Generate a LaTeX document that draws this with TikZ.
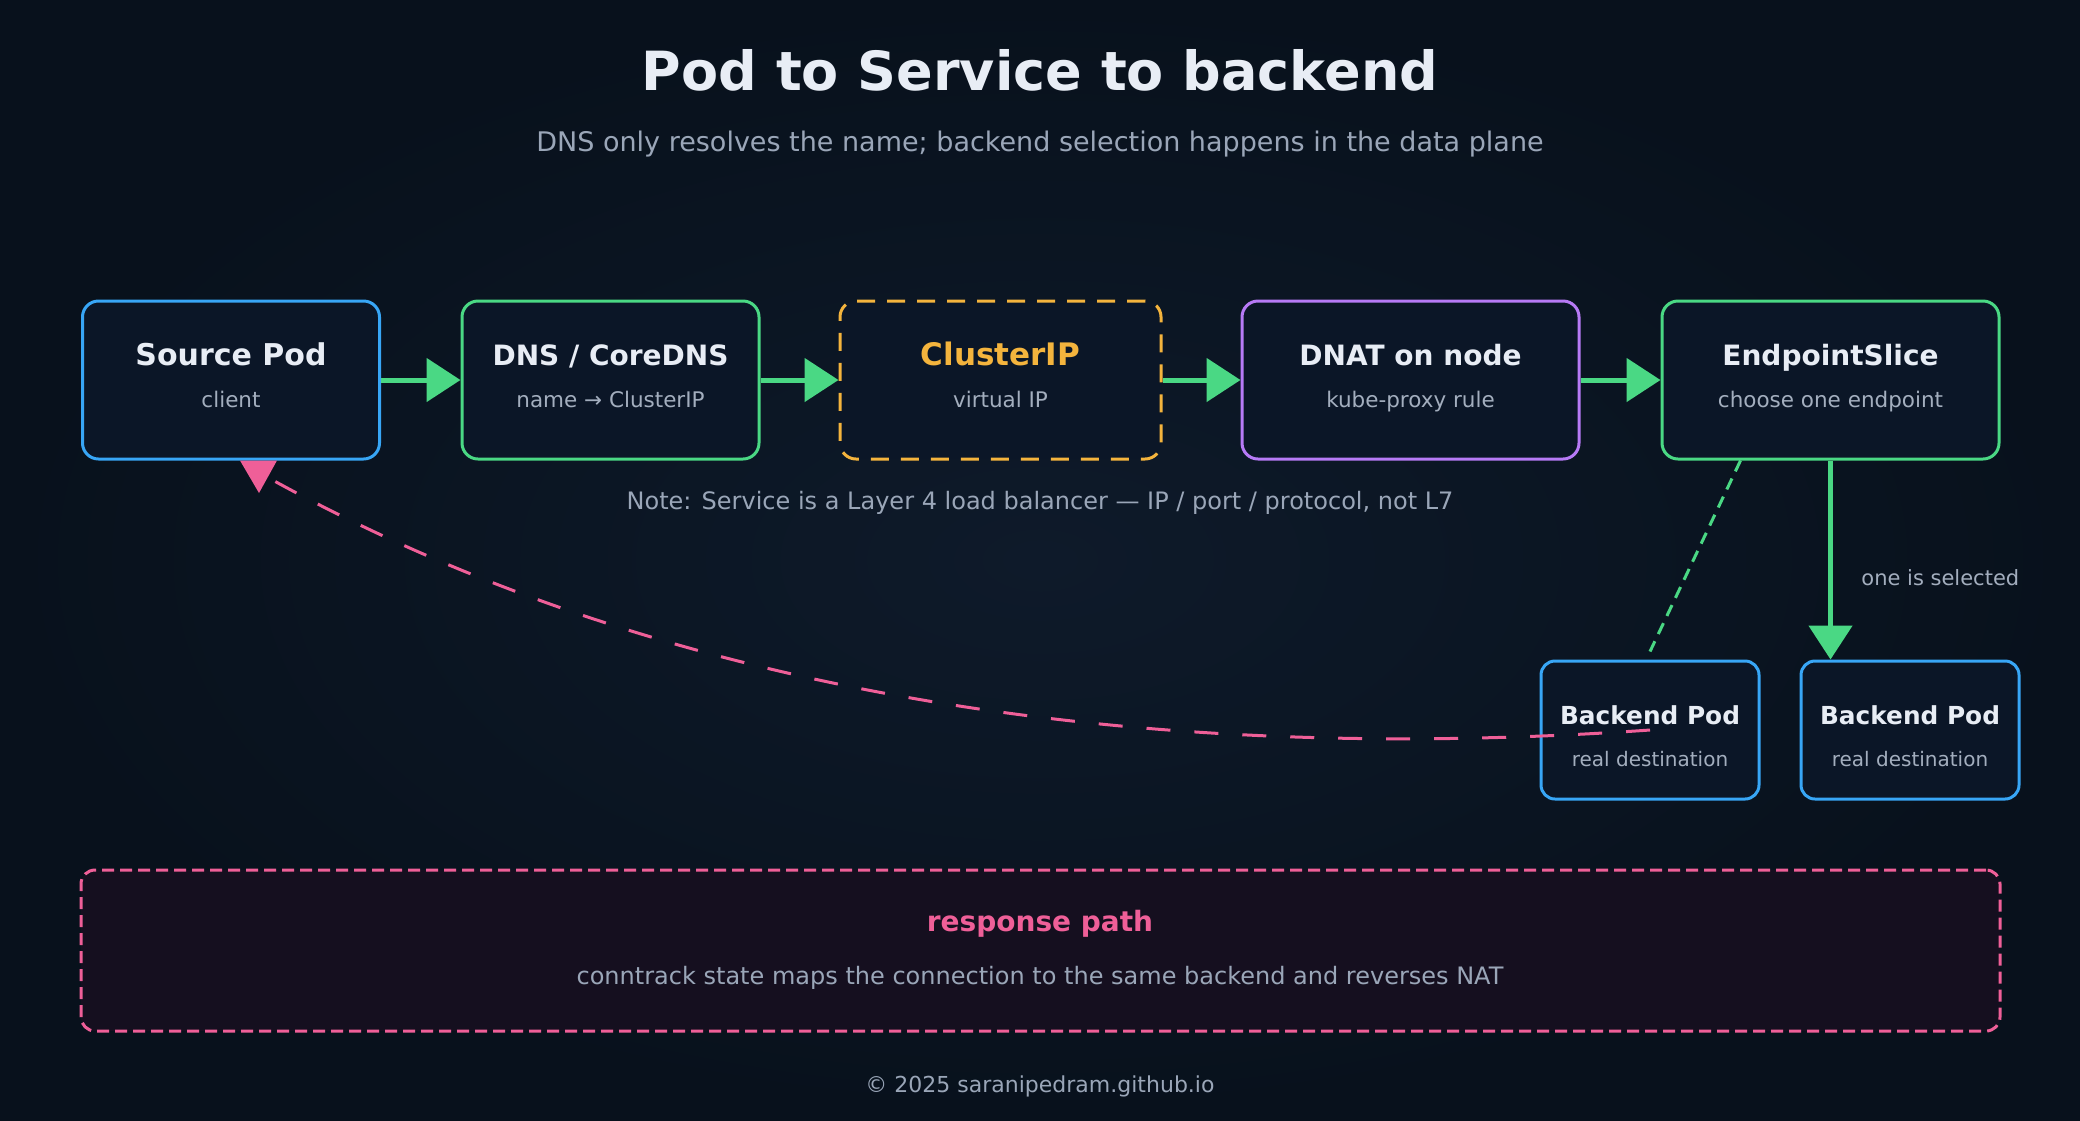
\documentclass[tikz,border=0pt]{standalone}
\usepackage{fontspec}
\setmainfont{DejaVu Sans}
\usetikzlibrary{arrows.meta,calc}
\definecolor{bgin}{HTML}{0E1A2A}
\definecolor{bgout}{HTML}{08111C}
\definecolor{boxfill}{HTML}{0B1627}
\definecolor{respfill}{HTML}{150F1F}
\definecolor{cblue}{HTML}{38A6F6}
\definecolor{cgreen}{HTML}{4AD884}
\definecolor{corange}{HTML}{F4B43D}
\definecolor{cpurple}{HTML}{B77AF6}
\definecolor{cpink}{HTML}{EF5F98}
\definecolor{twhite}{HTML}{E8EDF5}
\definecolor{tgray}{HTML}{9AA6B8}
\definecolor{tsub}{HTML}{A3AEBE}
\begin{document}
\begin{tikzpicture}[x=0.5pt,y=-0.5pt,
  box/.style={draw, line width=1.5pt, rounded corners=8pt, fill=boxfill, inner sep=0pt,
    minimum height=79pt},
  bigbox/.style={box, minimum width=148.5pt},
  podbox/.style={box, draw=cblue, rounded corners=7pt, minimum width=109pt, minimum height=69pt},
  ttl/.style={text=twhite, font=\bfseries\fontsize{15}{18}\selectfont, inner sep=0pt, anchor=base},
  ttlsm/.style={ttl, font=\bfseries\fontsize{14}{17}\selectfont},
  podttl/.style={text=twhite, font=\bfseries\fontsize{12.4}{15}\selectfont, inner sep=0pt, anchor=base},
  sub/.style={text=tsub, font=\fontsize{10.75}{13}\selectfont, inner sep=0pt, anchor=base},
  podsub/.style={text=tsub, font=\fontsize{10}{12}\selectfont, inner sep=0pt, anchor=base},
  flow/.style={draw=cgreen, line width=2.5pt, -{Triangle[length=17pt,width=21.5pt]}},
  greendash/.style={draw=cgreen, line width=1.5pt, dash pattern=on 6pt off 4pt},
  pinkdash/.style={draw=cpink, line width=1.5pt, dash pattern=on 12pt off 12pt}
]
\shade[inner color=bgin, outer color=bgout] (0,0) rectangle (2080,1120);
\useasboundingbox (0,0) rectangle (2080,1120);

% title
\node[text=twhite, font=\bfseries\fontsize{27}{32}\selectfont] (title) at (1040,70) {Pod to Service to backend};
\node[text=tgray, font=\fontsize{13.5}{16}\selectfont, inner sep=0pt, anchor=base] (subtitle) at (1040,151) {DNS only resolves the name; backend selection happens in the data plane};

% main boxes
\node[bigbox, draw=cblue] (src) at (231,380) {};
\node[ttl] (srcT) at (231,365) {Source Pod};
\node[sub] (srcS) at (231,407) {client};

\node[bigbox, draw=cgreen] (dns) at (610.5,380) {};
\node[ttlsm] (dnsT) at (610.5,365) {DNS / CoreDNS};
\node[sub] (dnsS) at (610.5,407) {name → ClusterIP};

\node[box, draw=corange, minimum width=160.5pt, dash pattern=on 9pt off 6pt] (cip) at (1000.5,380) {};
\node[ttl, text=corange, font=\bfseries\fontsize{15.5}{18}\selectfont] (cipT) at (1000.5,365) {ClusterIP};
\node[sub] (cipS) at (1000.5,407) {virtual IP};

\node[box, draw=cpurple, minimum width=168.5pt] (dnat) at (1410.5,380) {};
\node[ttlsm] (dnatT) at (1410.5,365) {DNAT on node};
\node[sub] (dnatS) at (1410.5,407) {kube-proxy rule};

\node[box, draw=cgreen, minimum width=168.5pt] (ep) at (1830.5,380) {};
\node[ttlsm] (epT) at (1830.5,365) {EndpointSlice};
\node[sub] (epS) at (1830.5,407) {choose one endpoint};

% note
\node[text=tgray, font=\fontsize{12}{14}\selectfont, inner sep=0pt, anchor=base] (note) at (1040,509) {Note: Service is a Layer 4 load balancer — IP / port / protocol, not L7};

% backend pods
\node[podbox] (bp1) at (1650,730) {};
\node[podttl] (bp1T) at (1650,724.5) {Backend Pod};
\node[podsub] (bp1S) at (1650,766.5) {real destination};

\node[podbox] (bp2) at (1910,730) {};
\node[podttl] (bp2T) at (1910,724.5) {Backend Pod};
\node[podsub] (bp2S) at (1910,766.5) {real destination};

% flow arrows
\draw[flow] (src) -- (dns);
\draw[flow] (dns) -- (cip);
\draw[flow] (cip) -- (dnat);
\draw[flow] (dnat) -- (ep);
\draw[flow] (ep.south) -- (ep.south |- bp2.north);
\node[text=tsub, font=\fontsize{10.5}{12}\selectfont, anchor=west, inner sep=0pt] (sel) at (1861,578) {one is selected};

\draw[greendash] ([xshift=-45pt]ep.south) -- ([yshift=4pt]bp1.north);

% response path curve
\draw[pinkdash] (bp1.center) .. controls (1150,765) and (663,699) .. ([xshift=14pt,yshift=-6pt]src.south);
\fill[cpink] ([xshift=4.5pt]src.south) -- ([xshift=23pt]src.south) -- ([xshift=14pt,yshift=-16.25pt]src.south) -- cycle;

% response box
\node[draw=cpink, line width=1.5pt, rounded corners=7pt, fill=respfill, dash pattern=on 6pt off 3pt,
  minimum width=959.5pt, minimum height=80.5pt, inner sep=0pt] (resp) at (1040.5,950.5) {};
\node[text=cpink, font=\bfseries\fontsize{14}{17}\selectfont, inner sep=0pt, anchor=base] (respT) at (1040,931) {response path};
\node[text=tgray, font=\fontsize{12}{14}\selectfont, inner sep=0pt, anchor=base] (respS) at (1040,984) {conntrack state maps the connection to the same backend and reverses NAT};

% footer
\node[text=tgray, font=\fontsize{11}{13}\selectfont, inner sep=0pt, anchor=base] (foot) at (1040,1092) {© 2025 saranipedram.github.io};
\end{tikzpicture}
\end{document}
